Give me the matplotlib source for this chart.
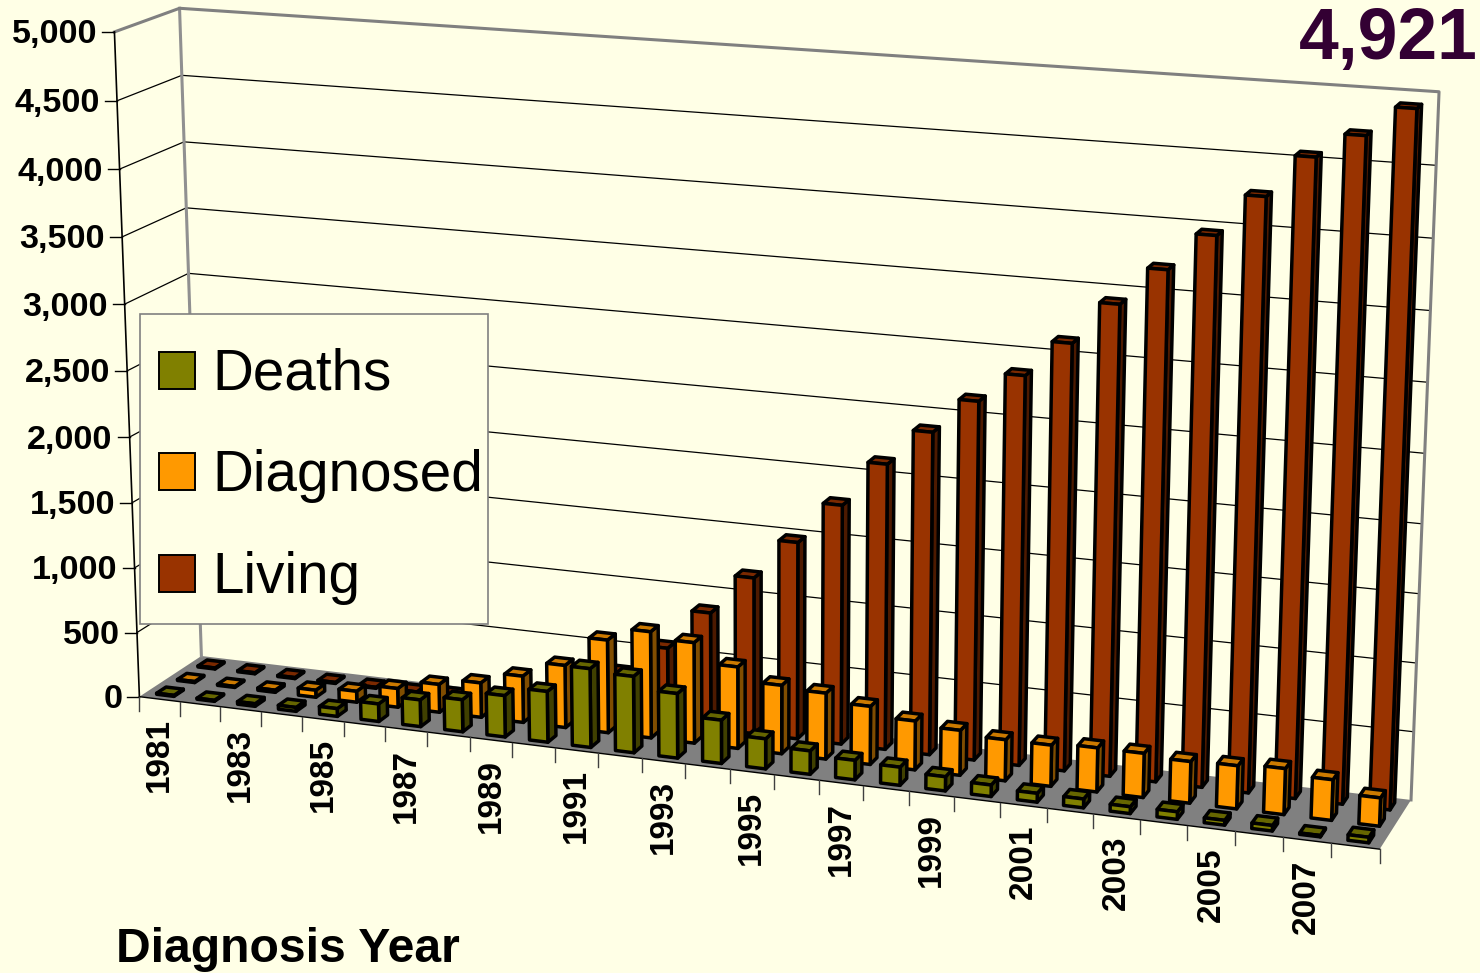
import numpy as np
import matplotlib
matplotlib.use('Agg')
import matplotlib.pyplot as plt
from matplotlib.patches import Polygon, Rectangle

plt.rcParams['font.family'] = ['Liberation Sans', 'DejaVu Sans']

# Data
years = list(range(1981, 2009))
deaths = [3, 3, 15, 25, 55, 130, 200, 240, 310, 380, 590, 570, 480, 320, 220, 170, 140, 130,
          100, 80, 60, 60, 45, 50, 30, 35, 5, 35]
diagnosed = [3, 3, 12, 50, 80, 140, 210, 260, 350, 470, 700, 800, 755, 610, 510, 490, 430, 360,
             330, 300, 300, 320, 320, 300, 310, 330, 290, 200]
living = [3, 3, 3, 3, 3, 5, 15, 30, 60, 180, 340, 570, 875, 1175, 1475, 1785, 2120, 2385,
          2640, 2855, 3115, 3420, 3690, 3955, 4250, 4545, 4715, 4921]
value_ticks = [0, 500, 1000, 1500, 2000, 2500, 3000, 3500, 4000, 4500, 5000]
series_names = ['Deaths', 'Diagnosed', 'Living']
series_values = [deaths, diagnosed, living]
total_label = '4,921'

# Colours of each series: front, right side, top
bg = '#FFFFE6'
colors = {'Deaths': ('#808000', '#404000', '#666600'),
          'Diagnosed': ('#FF9900', '#804D00', '#CC7A00'),
          'Living': ('#993300', '#4D1A00', '#7A2900')}

n = len(years)
zmax = 5000.0

# Camera fitted on the box corners seen in the picture:
# (category, depth 0-1, value) -> pixel
refs = [((0, 0, 0), (140, 697)), ((0, 1, 0), (201, 656)), ((n, 1, 0), (1411, 800)),
        ((n, 0, 0), (1380, 849)), ((0, 0, zmax), (114, 32)), ((0, 1, zmax), (180, 8)),
        ((n, 1, zmax), (1439, 92)), ((14, 0, 0), (729, 769))]
rows = []
for (x, y, z), (u, v) in refs:
    p = [x / n, y, z / zmax, 1]
    rows.append(p + [0, 0, 0, 0] + [-u * c for c in p])
    rows.append([0, 0, 0, 0] + p + [-v * c for c in p])
cam = np.linalg.svd(np.array(rows))[2][-1].reshape(3, 4)


def proj(x, y, z):
    h = cam @ np.array([x / n, y, z / zmax, 1.0])
    return h[0] / h[2], h[1] / h[2]


fig = plt.figure(figsize=(14.8, 9.73), dpi=100, facecolor=bg)
ax = fig.add_axes([0, 0, 1, 1])
ax.set_xlim(0, 1480)
ax.set_ylim(973, 0)
ax.axis('off')

# Floor
ax.add_patch(Polygon([proj(0, 0, 0), proj(n, 0, 0), proj(n, 1, 0), proj(0, 1, 0)],
                     fc='#808080', ec='none', zorder=1))

# Gridlines on back wall and left wall
for v in value_ticks[1:-1]:
    pts = [proj(0, 0, v), proj(0, 1, v), proj(n, 1, v)]
    ax.plot(*zip(*pts), color='black', lw=0.9, zorder=1)

# Wall borders
wall = [proj(0, 0, zmax), proj(0, 1, zmax), proj(n, 1, zmax), proj(n, 1, 0)]
ax.plot(*zip(*wall), color='#808080', lw=2.2, zorder=2)
ax.plot(*zip(proj(0, 1, 0), proj(0, 1, zmax)), color='#909090', lw=2.2, zorder=1.5)

# Value axis and ticks
ax.plot(*zip(proj(0, 0, 0), proj(0, 0, zmax)), color='black', lw=1.2, zorder=2)
for v in value_ticks:
    px, py = proj(0, 0, v)
    ax.plot([px - 12, px], [py, py], color='black', lw=1.0, zorder=2)
    ax.text(px - 17, py + 3, f'{v:,}', ha='right', va='center', fontsize=24.6, fontweight='bold', zorder=6)

# Category axis and ticks
ax.plot(*zip(proj(0, 0, 0), proj(n, 0, 0)), color='black', lw=1.0, zorder=2)
for i in range(n + 1):
    px, py = proj(i, 0, 0)
    ax.plot([px, px], [py, py + 14], color='#404040', lw=1.0, zorder=2)
for i, year in enumerate(years):
    if i % 2 == 0:
        px, py = proj(i + 0.5, 0, 0)
        ax.text(px, py + 19, str(year), rotation=90, ha='center', va='top',
                fontsize=24, fontweight='bold', zorder=6)

# Bars, back row first, then right to left
bar_w = 0.43
bar_d = 0.15
for s in [2, 1, 0]:
    name = series_names[s]
    front, side, top = colors[name]
    yc = (s + 0.5) / 3
    for i in range(n - 1, -1, -1):
        z = series_values[s][i] + 5
        x0, x1 = i + 0.5 - bar_w / 2, i + 0.5 + bar_w / 2
        y0, y1 = yc - bar_d / 2, yc + bar_d / 2
        zo = 3 + (2 - s) + (n - i) * 0.001
        ax.add_patch(Polygon([proj(x1, y0, 0), proj(x1, y1, 0), proj(x1, y1, z), proj(x1, y0, z)],
                             fc=side, ec='black', lw=2.5, joinstyle='round', zorder=zo))
        ax.add_patch(Polygon([proj(x0, y0, z), proj(x1, y0, z), proj(x1, y1, z), proj(x0, y1, z)],
                             fc=top, ec='black', lw=2.5, joinstyle='round', zorder=zo))
        ax.add_patch(Polygon([proj(x0, y0, 0), proj(x1, y0, 0), proj(x1, y0, z), proj(x0, y0, z)],
                             fc=front, ec='black', lw=2.5, joinstyle='round', zorder=zo))

# Legend box
ax.add_patch(Rectangle((140, 314), 348, 310, fc=bg, ec='#808080', lw=1.2, zorder=7))
for name, ly in zip(series_names, [371, 472, 574]):
    ax.add_patch(Rectangle((159, ly - 19), 36, 37, fc=colors[name][0], ec='black', lw=1.4, zorder=8))
    ax.text(212, ly + 4, name, ha='left', va='center', fontsize=40.8, zorder=8)

ax.text(116, 950, 'Diagnosis Year', ha='left', va='center', fontsize=34.6, fontweight='bold', zorder=6)
ax.text(1478, 40, total_label, ha='right', va='center', fontsize=51.5, fontweight='bold',
        color='#330033', zorder=6)

fig.savefig('out.png', dpi=100, facecolor=bg)
